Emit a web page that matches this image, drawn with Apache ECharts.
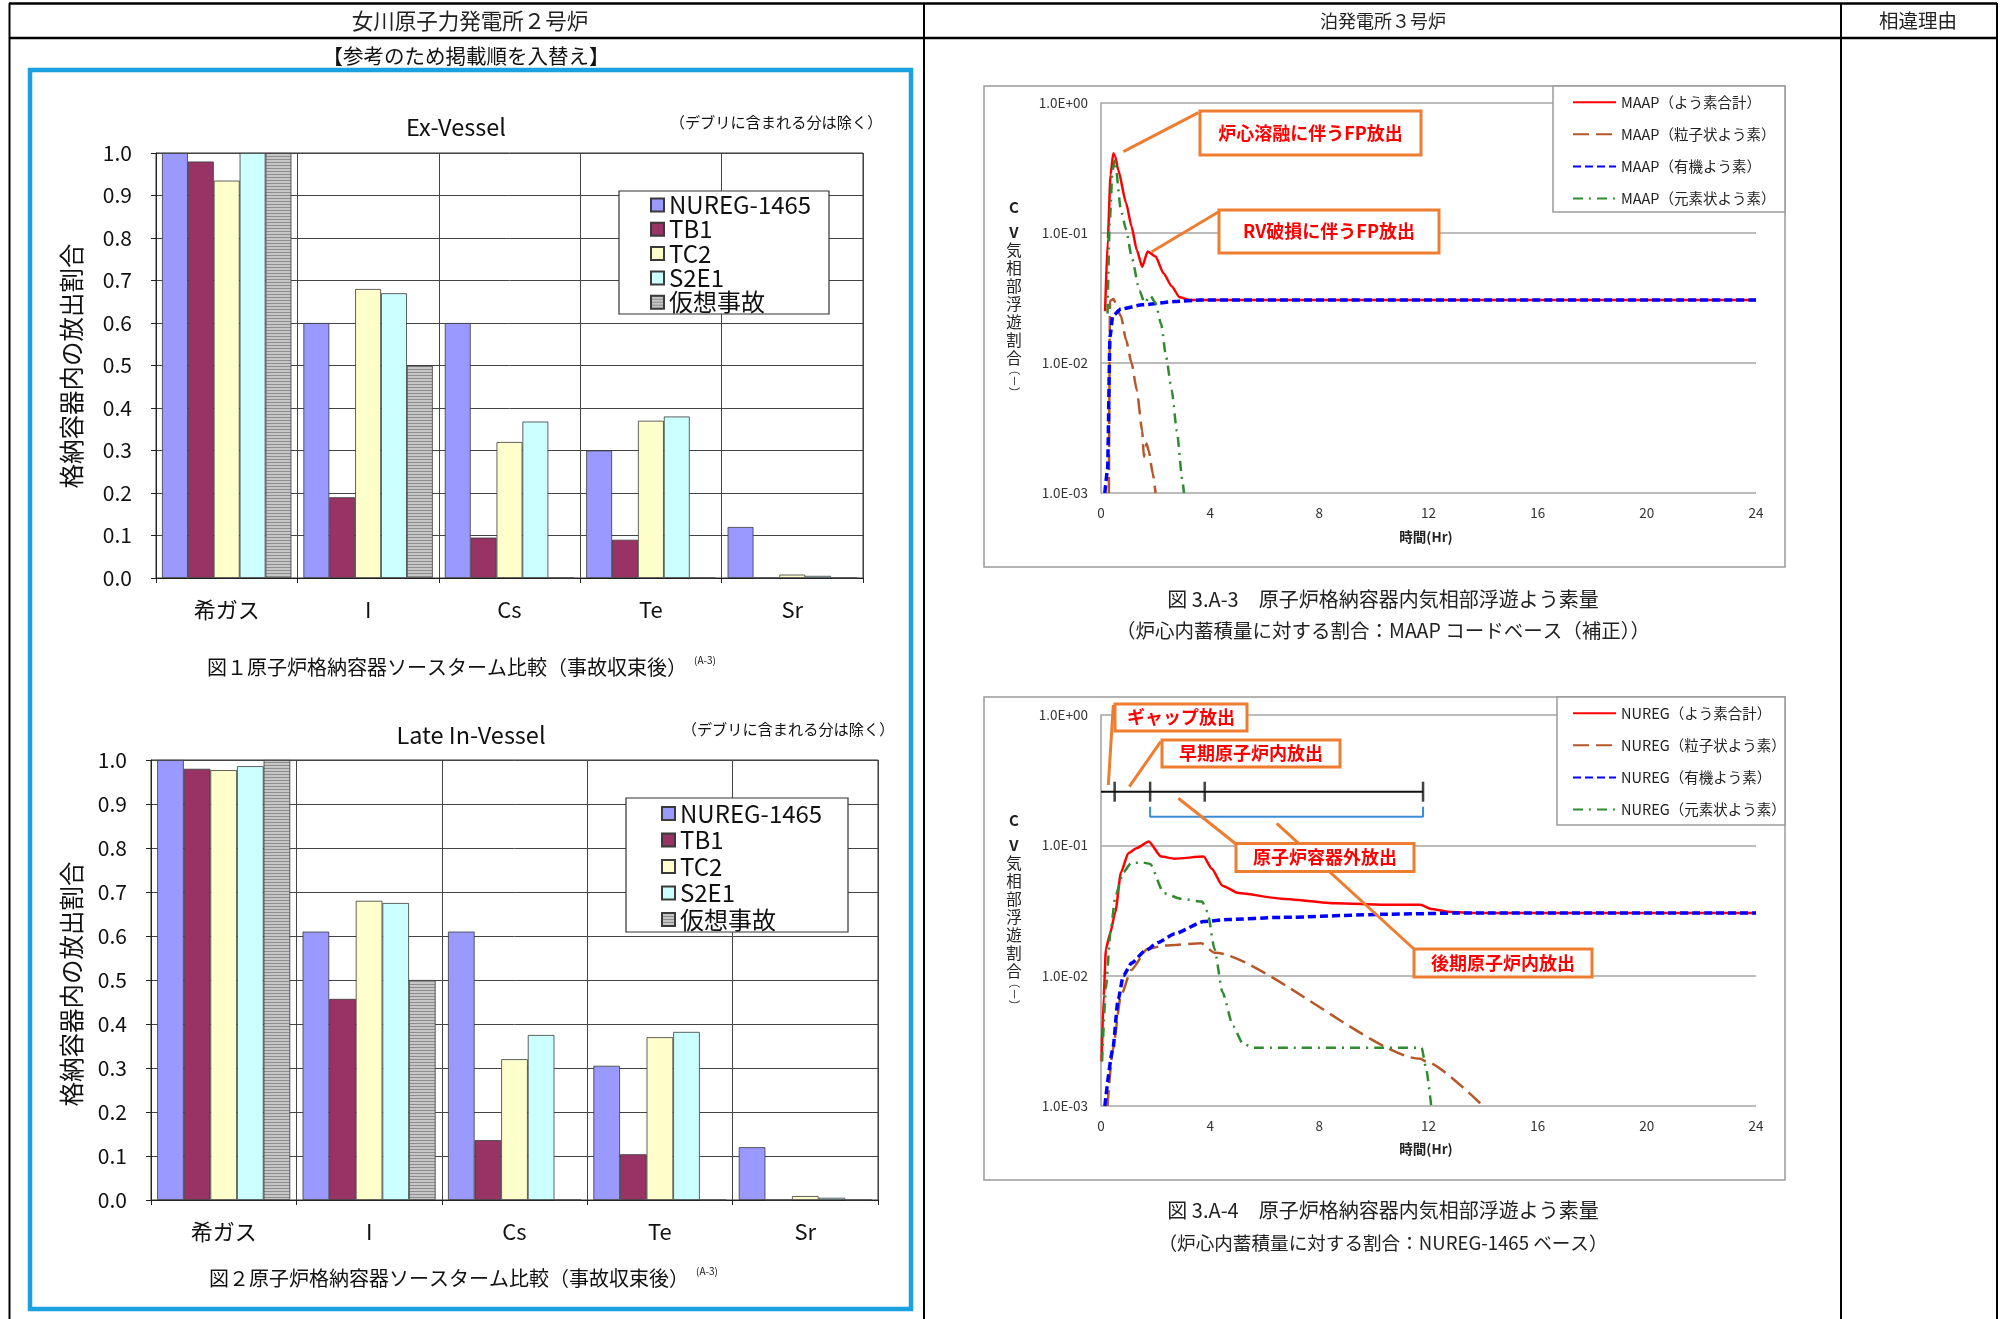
<!DOCTYPE html>
<html><head><meta charset="utf-8">
<script src="https://cdn.jsdelivr.net/npm/echarts@6/dist/echarts.min.js"></script>
<style>html,body{margin:0;padding:0;background:#fff}#c{width:2006px;height:1319px}</style>
</head><body><div id="c"></div><script>
// ---------------- DATA ----------------
const categories = ['希ガス', 'I', 'Cs', 'Te', 'Sr'];
const barNames = ['NUREG-1465', 'TB1', 'TC2', 'S2E1', '仮想事故'];
// Ex-Vessel
const exNureg = [1.0, 0.60, 0.60, 0.30, 0.12];
const exTB1   = [0.98, 0.19, 0.095, 0.09, 0.0];
const exTC2   = [0.935, 0.68, 0.32, 0.37, 0.008];
const exS2E1  = [1.0, 0.67, 0.368, 0.38, 0.005];
const exKaso  = [1.0, 0.50, 0, 0, 0];
// Late In-Vessel
const lateNureg = [1.0, 0.61, 0.61, 0.305, 0.12];
const lateTB1   = [0.98, 0.457, 0.136, 0.104, 0.0];
const lateTC2   = [0.977, 0.68, 0.32, 0.37, 0.009];
const lateS2E1  = [0.986, 0.675, 0.375, 0.382, 0.005];
const lateKaso  = [1.0, 0.50, 0, 0, 0];
const barTicks = [0.0, 0.1, 0.2, 0.3, 0.4, 0.5, 0.6, 0.7, 0.8, 0.9, 1.0];

// MAAP (time [h], fraction)
const maapNames = ['MAAP（よう素合計）', 'MAAP（粒子状よう素）', 'MAAP（有機よう素）', 'MAAP（元素状よう素）'];
const maapTotal = [[0.15,0.025],[0.25,0.09],[0.35,0.28],[0.45,0.41],[0.52,0.39],[0.63,0.306],[0.92,0.17],[1.12,0.112],[1.31,0.074],[1.51,0.055],[1.71,0.072],[2.0,0.066],[2.29,0.049],[2.59,0.039],[2.88,0.032],[3.27,0.0305],[24,0.0305]];
const maapPart  = [[0.29,0.001],[0.33,0.03],[0.45,0.031],[0.73,0.023],[0.92,0.015],[1.12,0.010],[1.31,0.0062],[1.51,0.003],[1.57,0.0019],[1.67,0.0024],[1.75,0.0021],[1.9,0.0014],[2.0,0.001]];
const maapOrg   = [[0.14,0.001],[0.24,0.0015],[0.33,0.016],[0.43,0.023],[0.73,0.026],[1.51,0.028],[2.69,0.0297],[3.67,0.0305],[24,0.0305]];
const maapElem  = [[0.24,0.024],[0.32,0.12],[0.42,0.30],[0.51,0.366],[0.73,0.15],[0.92,0.106],[1.12,0.066],[1.41,0.036],[1.6,0.029],[1.8,0.033],[2.0,0.029],[2.2,0.020],[2.39,0.011],[2.59,0.0062],[2.78,0.003],[2.98,0.00125],[3.04,0.001]];

// NUREG
const nuregNames = ['NUREG（よう素合計）', 'NUREG（粒子状よう素）', 'NUREG（有機よう素）', 'NUREG（元素状よう素）'];
const nuregTotal = [[0.02,0.0022],[0.1,0.007],[0.18,0.016],[0.33,0.021],[0.53,0.031],[0.73,0.062],[1.0,0.087],[1.3,0.095],[1.75,0.107],[2.2,0.082],[2.7,0.079],[3.76,0.082],[4.06,0.066],[4.45,0.049],[5.04,0.043],[6.6,0.039],[8.6,0.036],[10.5,0.035],[11.7,0.035],[12.1,0.0325],[12.7,0.031],[13.5,0.0303],[24,0.0303]];
const nuregPart  = [[0.24,0.001],[0.43,0.0027],[0.73,0.007],[1.1,0.011],[1.7,0.016],[2.3,0.017],[3.67,0.0177],[4.16,0.015],[11.7,0.0023],[11.9,0.0022],[14.0,0.001]];
const nuregOrg   = [[0.14,0.001],[0.43,0.0027],[0.63,0.0066],[0.82,0.010],[1.12,0.0125],[1.6,0.0154],[2.1,0.018],[2.7,0.021],[3.76,0.026],[4.65,0.027],[6.6,0.028],[10.5,0.0296],[13,0.0302],[24,0.0303]];
const nuregElem  = [[0.04,0.0022],[0.18,0.008],[0.35,0.022],[0.53,0.041],[0.82,0.062],[1.1,0.073],[1.5,0.074],[1.8,0.072],[2.3,0.043],[2.9,0.039],[3.7,0.037],[3.9,0.031],[4.16,0.016],[4.45,0.0075],[4.84,0.0041],[5.2,0.003],[5.6,0.0028],[11.75,0.0028],[11.9,0.002],[12.1,0.001]];

// NUREG-1465 release phase boundaries [h] and annotation levels
const phaseBoundaries = [0.5, 1.8, 3.8, 11.8];
const timelineLevel = 0.258;
const bracketLevel = 0.166;
const bracketEndLevel = 0.198;
const xTicks = [0, 4, 8, 12, 16, 20, 24];

// ---------------- RENDER ----------------
const FONT = '"Noto Sans CJK JP", "Noto Sans", sans-serif';
function stripe() {
  const c = document.createElement('canvas'); c.width = 4; c.height = 3;
  const g = c.getContext('2d');
  g.fillStyle = '#C6C6C6'; g.fillRect(0, 0, 4, 3);
  g.fillStyle = '#8E8E8E'; g.fillRect(0, 0, 4, 1);
  return c;
}
const barColors = ['#9999FF', '#993366', '#FFFFCC', '#CCFFFF', {image: stripe(), repeat: 'repeat'}];

function barSeries(gi, name, data, color) {
  return {type: 'bar', name, xAxisIndex: gi, yAxisIndex: gi, data,
    barGap: '0%', barCategoryGap: '8.5%', silent: true,
    itemStyle: {color, borderColor: '#3a3a3a', borderWidth: 0.8}};
}
function lineSeries(gi, name, data, color, width, dash) {
  return {type: 'line', name, xAxisIndex: gi, yAxisIndex: gi, data,
    symbol: 'none', showSymbol: false, smooth: 0.2, smoothMonotone: 'x', clip: true, silent: true,
    lineStyle: {color, width, type: dash || 'solid'}, itemStyle: {color}};
}
const lineColors = ['#FF0000', '#B4582A', '#0000FF', '#2E8B2E'];
const lineWidths = [2.5, 2.5, 3.5, 2.5];
const lineDash = ['solid', [16, 7], [8, 4], [10, 6, 2, 6]];

function barAxes(gi) {
  return {
    x: {type: 'category', gridIndex: gi, data: categories,
      axisLine: {lineStyle: {color: '#222', width: 1}},
      axisTick: {show: true, length: 5, lineStyle: {color: '#222'}},
      axisLabel: {fontSize: 22, color: '#111', margin: 21, fontFamily: FONT},
      splitLine: {show: true, lineStyle: {color: '#444', width: 1}}},
    y: {type: 'value', gridIndex: gi, min: barTicks[0], max: barTicks[barTicks.length - 1], interval: 0.1,
      axisLine: {show: true, lineStyle: {color: '#222'}},
      axisTick: {show: true, length: 5, lineStyle: {color: '#222'}},
      axisLabel: {fontSize: 21, color: '#111', margin: 24, fontFamily: FONT, formatter: v => v.toFixed(1)},
      splitLine: {show: true, lineStyle: {color: '#444', width: 1}}}
  };
}
function expFmt(v) {
  const e = Math.round(Math.log10(v));
  return '1.0E' + (e < 0 ? '-' : '+') + String(Math.abs(e)).padStart(2, '0');
}
function lineAxes(gi) {
  return {
    x: {type: 'value', gridIndex: gi, min: xTicks[0], max: xTicks[xTicks.length - 1], interval: 4,
      axisLine: {show: false}, axisTick: {show: false}, splitLine: {show: false},
      axisLabel: {fontSize: 13.5, color: '#333', margin: 13, fontFamily: FONT}},
    y: {type: 'log', logBase: 10, gridIndex: gi, min: 0.001, max: 1,
      axisLine: {show: true, lineStyle: {color: '#A0A0A0', width: 1.5}},
      axisTick: {show: false},
      splitLine: {show: true, lineStyle: {color: '#A6A6A6', width: 1.5}},
      axisLabel: {fontSize: 13.5, color: '#333', margin: 13, fontFamily: FONT, formatter: expFmt}}
  };
}
const a0 = barAxes(0), a1 = barAxes(1), a2 = lineAxes(2), a3 = lineAxes(3);

const series = [];
[exNureg, exTB1, exTC2, exS2E1, exKaso].forEach((d, i) => series.push(barSeries(0, barNames[i], d, barColors[i])));
[lateNureg, lateTB1, lateTC2, lateS2E1, lateKaso].forEach((d, i) => series.push(barSeries(1, barNames[i], d, barColors[i])));
[maapTotal, maapPart, maapOrg, maapElem].forEach((d, i) => series.push(lineSeries(2, maapNames[i], d, lineColors[i], lineWidths[i], lineDash[i])));
[nuregTotal, nuregPart, nuregOrg, nuregElem].forEach((d, i) => series.push(lineSeries(3, nuregNames[i], d, lineColors[i], lineWidths[i], lineDash[i])));
// phase timeline
const lastB = phaseBoundaries[phaseBoundaries.length - 1];
series.push({type: 'line', xAxisIndex: 3, yAxisIndex: 3, data: [[0, timelineLevel], [lastB, timelineLevel]],
  symbol: 'none', silent: true, lineStyle: {color: '#111', width: 2}, z: 5});
series.push({type: 'scatter', xAxisIndex: 3, yAxisIndex: 3, data: phaseBoundaries.map(t => [t, timelineLevel]),
  symbol: 'rect', symbolSize: [2.5, 20], silent: true, itemStyle: {color: '#111'}, z: 5});
series.push({type: 'line', xAxisIndex: 3, yAxisIndex: 3,
  data: [[phaseBoundaries[1], bracketEndLevel], [phaseBoundaries[1], bracketLevel], [lastB, bracketLevel], [lastB, bracketEndLevel]],
  symbol: 'none', silent: true, lineStyle: {color: '#3C8DD6', width: 2}, z: 5});

// ---------- graphics (table, texts, frames, callouts) ----------
const G = [];
function L(x1, y1, x2, y2, stroke, w, z) { G.push({type: 'line', shape: {x1, y1, x2, y2}, style: {stroke, lineWidth: w}, z: z || 1, silent: true}); }
function R(x, y, w, h, stroke, lw, fill, z) { G.push({type: 'rect', shape: {x, y, width: w, height: h}, style: {stroke, lineWidth: lw, fill: fill || 'transparent'}, z: z || 1, silent: true}); }
function T(text, x, y, size, opts) {
  opts = opts || {};
  G.push({type: 'text', x, y, rotation: opts.rot || 0, z: opts.z || 6, silent: true,
    style: {text, fontSize: size, fontFamily: FONT, fontWeight: opts.weight || 'normal', fill: opts.color || '#111',
      align: opts.align || 'center', verticalAlign: 'middle', lineHeight: opts.lh}});
}
// table
L(9, 3.5, 1997, 3.5, '#000', 2.5);
L(9, 38, 1997, 38, '#000', 2.5);
[9.5, 924, 1841, 1997].forEach(x => L(x, 3, x, 1319, '#000', 2));
T('女川原子力発電所２号炉', 470, 21, 21.5, {color: '#222'});
T('泊発電所３号炉', 1383, 21, 18, {color: '#222'});
T('相違理由', 1918, 21, 19.5, {color: '#222'});
T('【参考のため掲載順を入替え】', 466, 56, 20.5, {color: '#111'});
R(30, 70, 881, 1239, '#1BA1E2', 4.5);

// left bar charts texts
T('Ex-Vessel', 456, 127, 23.5);
T('（デブリに含まれる分は除く）', 776, 122, 15.2);
T('格納容器内の放出割合', 72, 366, 24.5, {rot: Math.PI / 2});
T('図１原子炉格納容器ソースターム比較（事故収束後）', 447, 667, 20);
T('(A-3)', 705, 660, 10);
R(619, 191, 210, 123, '#333', 1.2, '#fff', 3);

T('Late In-Vessel', 471, 735, 23.5);
T('（デブリに含まれる分は除く）', 788, 729, 15.2);
T('格納容器内の放出割合', 72, 984, 24.5, {rot: Math.PI / 2});
T('図２原子炉格納容器ソースターム比較（事故収束後）', 449, 1278, 20);
T('(A-3)', 707, 1271, 10);
R(626, 798, 222, 134, '#333', 1.2, '#fff', 3);

// right line chart frames
R(984, 86, 801, 481, '#9A9A9A', 1.5);
R(984, 697, 801, 483, '#9A9A9A', 1.5);
R(1553, 86, 232, 126, '#9A9A9A', 1.5, '#fff', 3);
R(1557, 697, 228, 128, '#9A9A9A', 1.5, '#fff', 3);
function yName(top) {
  T('C\nV', 1014, top + 12.5, 15, {weight: 'bold', lh: 25, color: '#222'});
  T('気\n相\n部\n浮\n遊\n割\n合', 1014, top + 97, 15.5, {lh: 18, color: '#222'});
  T('（－）', 1014, top + 174, 11.5, {rot: -Math.PI / 2, color: '#222'});
}
yName(207); yName(820);
T('時間(Hr)', 1426, 537, 13.5, {weight: 'bold', color: '#222'});
T('時間(Hr)', 1426, 1149, 13.5, {weight: 'bold', color: '#222'});
T('図 3.A-3　原子炉格納容器内気相部浮遊よう素量', 1383, 599, 20, {color: '#222'});
T('（炉心内蓄積量に対する割合：MAAP コードベース（補正））', 1383, 631, 19.5, {color: '#222'});
T('図 3.A-4　原子炉格納容器内気相部浮遊よう素量', 1383, 1210, 20, {color: '#222'});
T('（炉心内蓄積量に対する割合：NUREG-1465 ベース）', 1383, 1243, 18.6, {color: '#222'});

// callouts
const OR = '#ED7D31', RED = '#FF0000';
function callout(x, y, w, h, text, size) {
  R(x, y, w, h, OR, 3, '#fff', 8);
  T(text, x + w / 2, y + h / 2, size, {color: RED, weight: 'bold', z: 9});
}
L(1198.4, 112.7, 1123.4, 151.7, OR, 3, 8);
callout(1200, 111, 221, 44, '炉心溶融に伴うFP放出', 18);
L(1218.7, 211.7, 1151.8, 251.7, OR, 3, 8);
callout(1219, 210, 220, 43, 'RV破損に伴うFP放出', 18);

L(1113.3, 705, 1108.3, 785, OR, 3, 8);
L(1160.7, 741.7, 1129.3, 786.7, OR, 3, 8);
L(1178.3, 798.3, 1236, 844, OR, 3, 8);
L(1276.7, 823.3, 1414.5, 949.5, OR, 3, 8);
callout(1115, 704, 132, 27, 'ギャップ放出', 18);
callout(1162, 740, 178, 27, '早期原子炉内放出', 18);
callout(1236, 843.5, 178, 28, '原子炉容器外放出', 18);
callout(1414, 949, 178, 28, '後期原子炉内放出', 18);

const barLegendText = {fontSize: 24, color: '#111', fontFamily: FONT};
const lineLegendText = {fontSize: 14.5, color: '#222', fontFamily: FONT};
const option = {
  animation: false,
  backgroundColor: '#fff',
  textStyle: {fontFamily: FONT},
  grid: [
    {left: 156, top: 153, width: 707, height: 425, show: true, borderColor: '#333', borderWidth: 1},
    {left: 151, top: 760, width: 727, height: 440, show: true, borderColor: '#333', borderWidth: 1},
    {left: 1101, top: 103, width: 655, height: 390},
    {left: 1101, top: 715, width: 655, height: 391}
  ],
  xAxis: [a0.x, a1.x, a2.x, a3.x],
  yAxis: [a0.y, a1.y, a2.y, a3.y],
  legend: [
    {orient: 'vertical', left: 645, top: 188, itemWidth: 13, itemHeight: 13, itemGap: 0.3, icon: 'rect', data: barNames, textStyle: barLegendText, z: 5, selectedMode: false},
    {orient: 'vertical', left: 656, top: 796.5, itemWidth: 13, itemHeight: 13, itemGap: 2.5, icon: 'rect', data: barNames, textStyle: barLegendText, z: 5, selectedMode: false},
    {orient: 'vertical', left: 1567, top: 90, itemWidth: 43, itemHeight: 14, itemGap: 17.6, data: maapNames, textStyle: lineLegendText, itemStyle: {opacity: 0}, z: 5, selectedMode: false},
    {orient: 'vertical', left: 1567, top: 701, itemWidth: 43, itemHeight: 14, itemGap: 17.6, data: nuregNames, textStyle: lineLegendText, itemStyle: {opacity: 0}, z: 5, selectedMode: false}
  ],
  graphic: G,
  series
};
const chart = echarts.init(document.getElementById('c'), null, {renderer: 'canvas', width: 2006, height: 1319});
chart.setOption(option);
</script></body></html>
